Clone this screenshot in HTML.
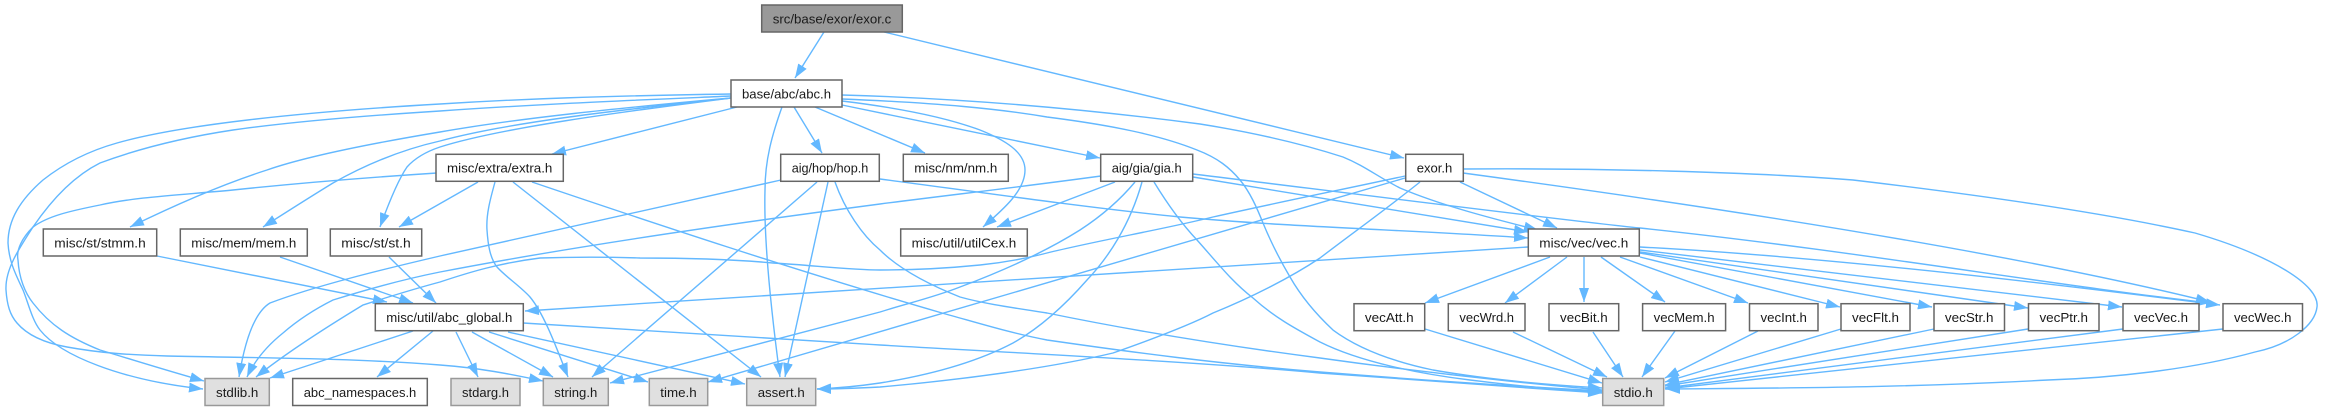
<!DOCTYPE html>
<html>
<head>
<meta charset="utf-8">
<title>src/base/exor/exor.c include graph</title>
<style>
html,body{margin:0;padding:0;background:#fff;width:2326px;height:411px;overflow:hidden}
svg{display:block}
.e{fill:none;stroke:#63b8ff;stroke-width:1.4;marker-end:url(#a)}
.n{fill:#fff;stroke:#666;stroke-width:1.5}
.g{fill:#e0e0e0;stroke:#999;stroke-width:1.5}
.r{fill:#999;stroke:#666;stroke-width:1.5}
text{font-family:"Liberation Sans",sans-serif;font-size:13.33px;fill:#1a1a1a;text-anchor:middle}
</style>
</head>
<body>
<svg width="2326" height="411" viewBox="0 0 2326 411" xmlns="http://www.w3.org/2000/svg">
<defs>
<marker id="a" markerUnits="userSpaceOnUse" markerWidth="15" markerHeight="11" refX="14" refY="5" orient="auto">
<polygon points="0,0 14,5 0,10" fill="#63b8ff"/>
</marker>
</defs>
<g>
<path class="e" d="M824 32L795 78"/>
<path class="e" d="M884 32L1404 158"/>
<path class="e" d="M737 107L552 154"/>
<path class="e" d="M794 107L822 153"/>
<path class="e" d="M815 107L925 153"/>
<path class="e" d="M842 105L1100 158"/>
<path class="e" d="M731 94C600 96 520 99 440 104C300 112 180 125 117 143C85 152 62 165 43 180C20 200 8 220 8 243C9 262 16 275 23 290C28 302 32 320 40 330C60 355 120 380 203 389"/>
<path class="e" d="M731 96C640 100 540 104 440 111C360 116 290 122 233 130C180 138 135 150 100 163C70 178 48 205 33 227C18 250 5 270 6 290C7 305 10 315 17 323C28 336 45 343 67 347C100 353 130 355 167 356C260 358 350 358 440 365C480 368 510 374 543 381"/>
<path class="e" d="M437 173C360 178 290 184 233 190C180 195 135 197 100 205C70 211 48 216 33 227C22 238 16 250 18 260C19 278 25 293 33 303C50 325 70 338 100 350C140 362 165 370 204 381"/>
<path class="e" d="M731 98C620 108 520 118 440 132C380 142 310 155 267 170C220 185 175 205 130 227"/>
<path class="e" d="M731 98C620 110 510 122 440 141C400 150 365 165 333 183C310 197 285 213 263 227"/>
<path class="e" d="M731 98C620 112 500 128 440 147C425 152 415 158 407 167C398 180 388 205 380 227"/>
<path class="e" d="M478 182L399 227"/>
<path class="e" d="M495 182C490 200 486 215 487 230C488 245 490 258 497 267C506 277 520 286 530 297C545 315 558 352 568 377"/>
<path class="e" d="M513 182L761 377"/>
<path class="e" d="M532 182C650 222 800 272 942 313C975 322 1010 333 1047 340C1130 352 1220 364 1320 372C1420 380 1510 386 1602 391"/>
<path class="e" d="M880 179C950 188 1080 207 1180 217C1290 227 1410 230 1528 238"/>
<path class="e" d="M781 180C660 208 540 234 440 256C380 270 315 286 270 303C255 312 245 340 239 377"/>
<path class="e" d="M817 182L592 377"/>
<path class="e" d="M828 182L785 377"/>
<path class="e" d="M835 182C845 210 862 235 880 250C900 270 930 285 960 297C985 304 1015 308 1047 313C1130 330 1220 345 1320 358C1420 372 1510 382 1602 390"/>
<path class="e" d="M1101 176C1020 187 950 195 880 204C720 225 570 247 440 272C400 280 365 290 333 300C315 309 298 320 283 333C268 345 255 360 247 377"/>
<path class="e" d="M1115 182L997 227"/>
<path class="e" d="M1135 182C1120 200 1100 217 1080 230C1045 252 1000 272 960 287C935 297 905 304 880 312L610 383"/>
<path class="e" d="M1142 182C1130 225 1108 258 1087 280C1065 305 1040 328 1013 343C975 363 930 375 880 383C860 386 840 388 817 389"/>
<path class="e" d="M1154 182C1165 200 1180 222 1197 240C1215 260 1232 282 1253 298C1275 318 1298 330 1320 342C1360 362 1420 374 1470 380C1510 385 1560 390 1602 392"/>
<path class="e" d="M1193 177C1290 192 1420 215 1528 232"/>
<path class="e" d="M1193 174C1300 187 1560 220 1640 228C1850 250 2050 285 2210 303"/>
<path class="e" d="M842 95C950 98 1070 107 1200 124C1250 132 1300 143 1343 157C1365 166 1378 177 1400 188C1440 205 1490 218 1538 230"/>
<path class="e" d="M842 99C940 103 1000 109 1047 117C1110 125 1160 135 1197 150C1218 158 1230 168 1240 180C1250 192 1257 208 1263 223C1270 240 1280 260 1290 277C1302 298 1318 316 1333 330C1360 350 1395 362 1433 370C1490 380 1550 385 1602 388"/>
<path class="e" d="M842 101C900 108 945 117 980 130C1005 140 1025 152 1025 170C1025 190 1005 208 983 227"/>
<path class="e" d="M782 107C772 135 765 160 765 190C764 225 767 280 780 377"/>
<path class="e" d="M1405 176C1340 190 1280 202 1213 217C1160 230 1100 240 1047 253C1020 260 1000 263 980 265C950 268 920 270 880 270C850 270 810 265 773 263C730 259 680 258 640 258C610 257 570 257 540 258C500 263 470 272 440 282C410 290 385 298 363 305C330 325 290 350 256 377"/>
<path class="e" d="M1405 178L708 382"/>
<path class="e" d="M1420 182C1385 210 1350 235 1320 258C1290 278 1250 298 1213 313C1190 325 1150 340 1113 353C1050 368 960 380 880 387C860 388 840 389 817 389"/>
<path class="e" d="M1460 182L1557 228"/>
<path class="e" d="M1463 173C1700 205 2000 250 2210 302"/>
<path class="e" d="M1463 169C1600 168 1750 172 1853 180C1980 195 2100 212 2195 233C2270 255 2320 285 2317 307C2315 325 2290 345 2255 352C2190 370 2110 378 2048 380C1900 388 1780 388 1666 389"/>
<path class="e" d="M157 256L387 302"/>
<path class="e" d="M280 257L413 303"/>
<path class="e" d="M389 257L436 303"/>
<path class="e" d="M1528 247L525 311"/>
<path class="e" d="M523 323C640 330 760 338 880 345C1000 352 1200 362 1320 373C1420 380 1510 387 1602 393"/>
<path class="e" d="M413 331L270 378"/>
<path class="e" d="M433 331L377 377"/>
<path class="e" d="M456 332L478 377"/>
<path class="e" d="M472 332L553 377"/>
<path class="e" d="M489 332L648 382"/>
<path class="e" d="M508 332L745 384"/>
<path class="e" d="M1550 257L1425 303"/>
<path class="e" d="M1567 257L1505 303"/>
<path class="e" d="M1584 257L1584 302"/>
<path class="e" d="M1601 257L1665 302"/>
<path class="e" d="M1620 257L1748 303"/>
<path class="e" d="M1640 257L1840 307"/>
<path class="e" d="M1640 253L1932 307"/>
<path class="e" d="M1640 252L2028 308"/>
<path class="e" d="M1640 250L2122 307"/>
<path class="e" d="M1640 247C1850 258 2100 290 2220 305"/>
<path class="e" d="M1425 329L1602 383"/>
<path class="e" d="M1513 332L1607 377"/>
<path class="e" d="M1593 332L1623 377"/>
<path class="e" d="M1675 331L1642 377"/>
<path class="e" d="M1758 331L1665 378"/>
<path class="e" d="M1841 329L1665 382"/>
<path class="e" d="M1934 329L1665 385"/>
<path class="e" d="M2028 329L1665 386"/>
<path class="e" d="M2123 329L1665 388"/>
<path class="e" d="M2223 329L1665 389"/>
</g>
<g>
<rect class="r" x="761.7" y="5" width="140.6" height="27"/><text x="832" y="23.3" textLength="118.6" lengthAdjust="spacingAndGlyphs">src/base/exor/exor.c</text>
<rect class="n" x="731" y="80" width="111" height="27"/><text x="786.5" y="98.3" textLength="89" lengthAdjust="spacingAndGlyphs">base/abc/abc.h</text>
<rect class="n" x="436" y="154.3" width="127.3" height="27"/><text x="499.7" y="172.6" textLength="105.3" lengthAdjust="spacingAndGlyphs">misc/extra/extra.h</text>
<rect class="n" x="780.7" y="154.3" width="98.6" height="27"/><text x="830" y="172.6" textLength="76.6" lengthAdjust="spacingAndGlyphs">aig/hop/hop.h</text>
<rect class="n" x="903.3" y="154.3" width="105" height="27"/><text x="955.8" y="172.6" textLength="83" lengthAdjust="spacingAndGlyphs">misc/nm/nm.h</text>
<rect class="n" x="1100.7" y="154.3" width="92" height="27"/><text x="1146.7" y="172.6" textLength="70" lengthAdjust="spacingAndGlyphs">aig/gia/gia.h</text>
<rect class="n" x="1405.7" y="154.3" width="57.6" height="27"/><text x="1434.5" y="172.6" textLength="35.6" lengthAdjust="spacingAndGlyphs">exor.h</text>
<rect class="n" x="43.3" y="229" width="113.4" height="27"/><text x="100" y="247.3" textLength="91.4" lengthAdjust="spacingAndGlyphs">misc/st/stmm.h</text>
<rect class="n" x="180.3" y="229" width="127" height="27"/><text x="243.8" y="247.3" textLength="105" lengthAdjust="spacingAndGlyphs">misc/mem/mem.h</text>
<rect class="n" x="330.3" y="229" width="91.4" height="27"/><text x="376" y="247.3" textLength="69.4" lengthAdjust="spacingAndGlyphs">misc/st/st.h</text>
<rect class="n" x="900.7" y="229" width="126.6" height="27"/><text x="964" y="247.3" textLength="104.6" lengthAdjust="spacingAndGlyphs">misc/util/utilCex.h</text>
<rect class="n" x="1528.3" y="229" width="111" height="27"/><text x="1583.8" y="247.3" textLength="89" lengthAdjust="spacingAndGlyphs">misc/vec/vec.h</text>
<rect class="n" x="375.3" y="303.7" width="148" height="27"/><text x="449.3" y="322" textLength="126" lengthAdjust="spacingAndGlyphs">misc/util/abc_global.h</text>
<rect class="n" x="1354" y="303.7" width="70.7" height="27"/><text x="1389.3" y="322" textLength="48.7" lengthAdjust="spacingAndGlyphs">vecAtt.h</text>
<rect class="n" x="1448.3" y="303.7" width="76.7" height="27"/><text x="1486.7" y="322" textLength="54.7" lengthAdjust="spacingAndGlyphs">vecWrd.h</text>
<rect class="n" x="1549" y="303.7" width="69.7" height="27"/><text x="1583.9" y="322" textLength="47.7" lengthAdjust="spacingAndGlyphs">vecBit.h</text>
<rect class="n" x="1642.6" y="303.7" width="83" height="27"/><text x="1684.1" y="322" textLength="61" lengthAdjust="spacingAndGlyphs">vecMem.h</text>
<rect class="n" x="1749.5" y="303.7" width="68.5" height="27"/><text x="1783.7" y="322" textLength="46.5" lengthAdjust="spacingAndGlyphs">vecInt.h</text>
<rect class="n" x="1841" y="303.7" width="69" height="27"/><text x="1875.5" y="322" textLength="47" lengthAdjust="spacingAndGlyphs">vecFlt.h</text>
<rect class="n" x="1934" y="303.7" width="70.5" height="27"/><text x="1969.2" y="322" textLength="48.5" lengthAdjust="spacingAndGlyphs">vecStr.h</text>
<rect class="n" x="2028.5" y="303.7" width="70.5" height="27"/><text x="2063.7" y="322" textLength="48.5" lengthAdjust="spacingAndGlyphs">vecPtr.h</text>
<rect class="n" x="2123" y="303.7" width="76" height="27"/><text x="2161" y="322" textLength="54" lengthAdjust="spacingAndGlyphs">vecVec.h</text>
<rect class="n" x="2223" y="303.7" width="79.5" height="27"/><text x="2262.7" y="322" textLength="57.5" lengthAdjust="spacingAndGlyphs">vecWec.h</text>
<rect class="g" x="205" y="378.5" width="64.3" height="27"/><text x="237.2" y="396.8" textLength="42.3" lengthAdjust="spacingAndGlyphs">stdlib.h</text>
<rect class="n" x="292.7" y="378.5" width="134.6" height="27"/><text x="360" y="396.8" textLength="112.6" lengthAdjust="spacingAndGlyphs">abc_namespaces.h</text>
<rect class="g" x="451" y="378.5" width="69" height="27"/><text x="485.5" y="396.8" textLength="47" lengthAdjust="spacingAndGlyphs">stdarg.h</text>
<rect class="g" x="543.3" y="378.5" width="65" height="27"/><text x="575.8" y="396.8" textLength="43" lengthAdjust="spacingAndGlyphs">string.h</text>
<rect class="g" x="649.3" y="378.5" width="58.4" height="27"/><text x="678.5" y="396.8" textLength="36.4" lengthAdjust="spacingAndGlyphs">time.h</text>
<rect class="g" x="746.7" y="378.5" width="69" height="27"/><text x="781.2" y="396.8" textLength="47" lengthAdjust="spacingAndGlyphs">assert.h</text>
<rect class="g" x="1602.7" y="378.5" width="61" height="27"/><text x="1633.2" y="396.8" textLength="39" lengthAdjust="spacingAndGlyphs">stdio.h</text>
</g>
</svg>
</body>
</html>
